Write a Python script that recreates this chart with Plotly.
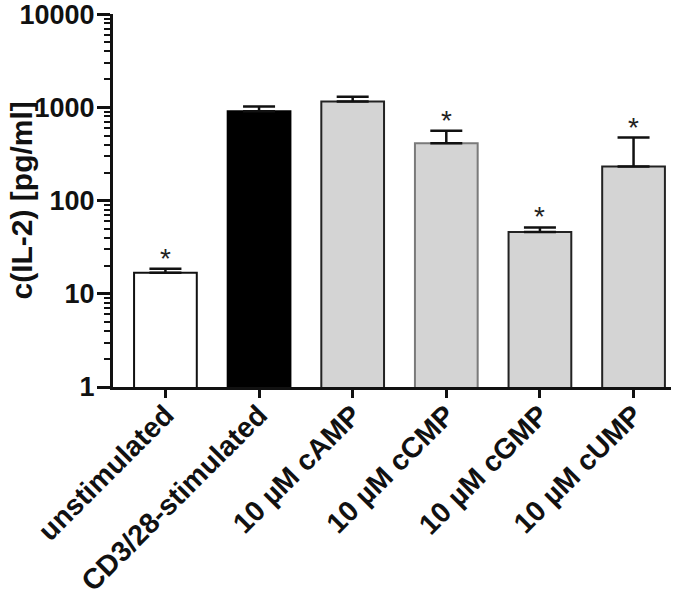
import numpy as np
import plotly.graph_objects as go

categories = ["unstimulated", "CD3/28-stimulated", "10 µM cAMP", "10 µM cCMP", "10 µM cGMP", "10 µM cUMP"]
means = [16.8, 913, 1160, 413, 46, 232]
errors_up = [1.8, 111, 140, 151, 5.6, 244]
significant = [True, False, False, True, True, True]
fill_colors = ["#ffffff", "#000000", "#d4d4d4", "#d4d4d4", "#d4d4d4", "#d4d4d4"]
line_colors = ["#111111", "#000000", "#222222", "#7a7a7a", "#222222", "#222222"]
y_ticks = [1, 10, 100, 1000, 10000]

FONT = "Arial, Liberation Sans, sans-serif"

fig = go.Figure()
fig.add_trace(go.Bar(
    x=categories, y=means,
    width=0.67,
    marker=dict(color=fill_colors, line=dict(color=line_colors, width=2)),
    error_y=dict(type="data", array=errors_up, symmetric=False,
                 arrayminus=[0] * len(means), color="#111111", thickness=2.5, width=16),
    showlegend=False,
))

for c, m, e, s in zip(categories, means, errors_up, significant):
    if s:
        fig.add_annotation(x=c, y=np.log10(m + e), text="*", showarrow=False,
                           yanchor="bottom", yshift=-7,
                           font=dict(family=FONT, size=28, color="#222222"))

fig.add_annotation(xref="paper", yref="paper", x=0, y=0.5, xshift=-92,
                   text="c(IL-2) [pg/ml]", textangle=-90, showarrow=False,
                   xanchor="center", yanchor="middle",
                   font=dict(family=FONT, size=30, color="#111111", weight="bold"))

fig.update_layout(
    width=685, height=596,
    margin=dict(l=113, r=14, t=14, b=209),
    paper_bgcolor="white", plot_bgcolor="white",
    xaxis=dict(
        range=[-0.56, 5.4], showline=True, linecolor="#111111", linewidth=3,
        ticks="outside", ticklen=8, tickwidth=3, tickcolor="#111111",
        tickangle=-45, showgrid=False, zeroline=False, automargin=False,
        ticklabeloverflow="allow", ticklabelstandoff=-11,
        tickfont=dict(family=FONT, size=28.5, color="#111111", weight="bold"),
    ),
    yaxis=dict(
        type="log", range=[0, 4.003], showline=True, linecolor="#111111", linewidth=3,
        ticks="outside", ticklen=13, tickwidth=3, tickcolor="#111111",
        tickvals=y_ticks, ticktext=[str(v) for v in y_ticks],
        showgrid=False, zeroline=False, automargin=False,
        ticklabeloverflow="allow", ticklabelstandoff=-3,
        tickfont=dict(family=FONT, size=27, color="#111111", weight="bold"),
        minor=dict(ticks="outside", ticklen=6, tickwidth=2, tickcolor="#111111",
                   dtick="D1", showgrid=False),
    ),
)

fig.write_html("out.html", config={"displayModeBar": False},
               post_script="document.body.style.margin='0px';")
